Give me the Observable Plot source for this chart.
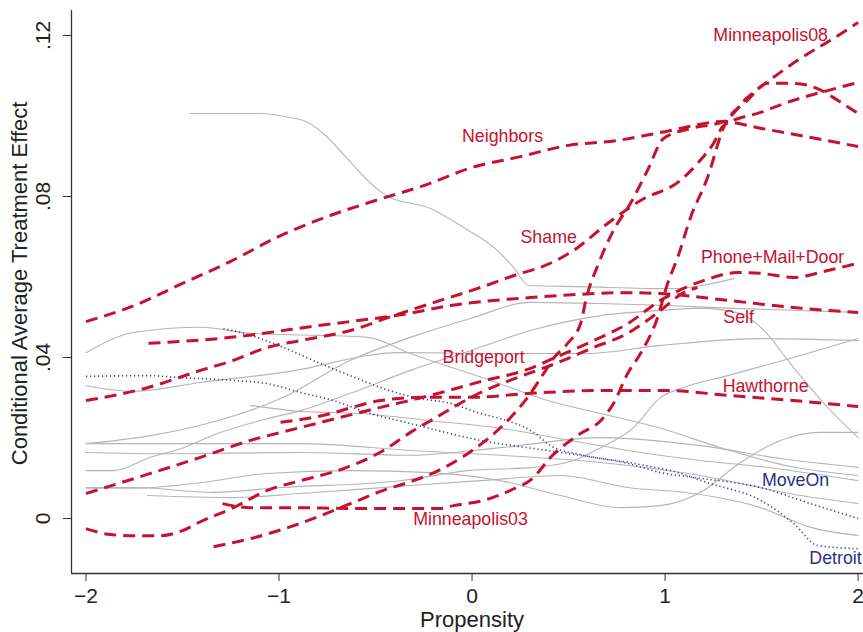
<!DOCTYPE html>
<html>
<head>
<meta charset="utf-8">
<script src="https://cdn.jsdelivr.net/npm/d3@7"></script>
<script src="https://cdn.jsdelivr.net/npm/@observablehq/plot@0.6"></script>
<style>
  html, body { margin: 0; padding: 0; background: #fff; }
  #chart { width: 863px; height: 632px; }
</style>
</head>
<body>
<div id="chart"></div>
<script>
// ---------- Tick labels ----------
const xTicks = [-2, -1, 0, 1, 2];
const xTickLabels = ["\u22122", "\u22121", "0", "1", "2"];
const yTicks = [0, 0.04, 0.08, 0.12];
const yTickLabels = ["0", ".04", ".08", ".12"];
const xTitle = "Propensity";
const yTitle = "Conditional Average Treatment Effect";

// ---------- Red dashed series (labelled experiments) ----------
const neighborsX = [-2,-1.75,-1.5,-1.25,-1,-0.75,-0.5,-0.25,0,0.25,0.5,0.75,1,1.3,1.5,1.75,2];
const neighborsY = [.0489,.0529,.0584,.0639,.0701,.0750,.0790,.0827,.0872,.0899,.0927,.0939,.0961,.0986,.0969,.0947,.0924];

const shameX = [-2,-1.681,-1.407,-1.236,-1.060,-0.889,-0.630,-0.407,-0.215,0.044,0.251,0.355,0.526,0.702,0.873,1.080,1.168,1.251,1.303,1.495,1.666,1.842,2.0];
const shameY = [.0293,.0325,.0368,.0393,.0425,.0442,.0467,.0504,.0534,.0574,.0609,.0624,.0666,.0733,.0790,.0840,.0882,.0932,.0976,.1009,.1039,.1063,.1083];

const selfX = [-1.676,-1.251,-0.801,-0.334,-0.111,0.303,0.459,0.806,0.972,1.324,1.666,2.0];
const selfY = [.0435,.0450,.0479,.0509,.0529,.0549,.0554,.0561,.0559,.0542,.0524,.0512];

const pmdX = [-2,-1.666,-1.407,-1.148,-0.889,-0.474,-0.215,0.044,0.303,0.422,0.630,0.806,0.977,1.199,1.376,1.495,1.666,1.842,2.0];
const pmdY = [.0062,.0112,.0152,.0194,.0226,.0276,.0306,.0340,.0373,.0398,.0442,.0484,.0542,.0591,.0611,.0609,.0599,.0616,.0634];

const hawthorneX = [-0.992,-0.801,-0.474,-0.251,-0.008,0.303,0.666,1.003,1.324,1.666,2.0];
const hawthorneY = [.0239,.0253,.0293,.0301,.0301,.0311,.0318,.0318,.0306,.0293,.0278];

const bridgeportX = [-2,-1.873,-1.75,-1.62,-1.50,-1.407,-1.236,-1.060,-0.889,-0.666,-0.459,-0.319,-0.215,0.044,0.251,0.422,0.630,0.806,0.977,1.096,1.168];
const bridgeportY = [-.0025,-.0040,-.0043,-.0043,-.0030,-.0008,.0027,.0070,.0094,.0124,.0169,.0214,.0243,.0313,.0353,.0383,.0425,.0460,.0517,.0561,.0574];

const minn03X = [-1.293,-1.148,-0.889,-0.645,-0.459,-0.163,-0.096,0.060,0.199,0.319,0.407,0.562,0.666,0.733,0.806,0.873,0.961,1.013,1.065,1.132,1.220,1.303,1.427,1.531,1.666,1.790,1.894,2.0];
const minn03Y = [.0037,.0027,.0027,.0025,.0025,.0025,.0032,.0045,.0070,.0102,.0152,.0211,.0243,.0286,.0360,.0410,.0499,.0584,.0648,.0748,.0847,.0971,.1039,.1081,.1081,.1068,.1039,.1006];

const minn08X = [-1.339,-1.148,-0.889,-0.630,-0.459,-0.334,-0.197,-0.023,0.148,0.288,0.391,0.422,0.495,0.562,0.593,0.656,0.733,0.821,0.909,0.992,1.132,1.303,1.427,1.562,1.702,1.857,2.0];
const minn08Y = [-.0070,-.0050,-.0012,.0037,.0070,.0089,.0114,.0161,.0226,.0301,.0375,.0398,.0435,.0484,.0549,.0634,.0716,.0783,.0865,.0944,.0969,.0986,.1046,.1096,.1143,.1188,.1232];

// ---------- Blue dotted series ----------
const moveOnX = [-2,-1.681,-1.510,-1.236,-1.060,-0.889,-0.718,-0.541,-0.319,0.044,0.391,0.562,0.806,0.977,1.148,1.495,1.754,2.0];
const moveOnY = [.0353,.0355,.0350,.0343,.0335,.0313,.0293,.0263,.0236,.0194,.0169,.0157,.0137,.0114,.0102,.0077,.0037,.0000];

const detroitX = [-1.288,-1.148,-0.977,-0.801,-0.630,-0.459,-0.303,-0.111,0.044,0.148,0.319,0.407,0.578,0.837,1.080,1.220,1.495,1.666,1.790,2.0];
const detroitY = [.0472,.0455,.0425,.0388,.0355,.0323,.0301,.0286,.0261,.0248,.0214,.0181,.0157,.0137,.0112,.0089,.0045,-.0012,-.0067,-.0075];

// ---------- Grey background series ----------
const g1X = [-1.459,-1.096,-0.941,-0.889,-0.422,-0.215,-0.044,0.111,0.215,0.293,0.562,1.028,1.355];
const g1Y = [.1006,.1006,.0996,.0991,.0797,.0770,.0723,.0674,.0624,.0579,.0576,.0571,.0596];
const g2X = [-2,-1.754,-1.407,-1.148,-0.801,-0.541,-0.319,0.096,0.391,0.666,0.977,1.288,1.650,2.0];
const g2Y = [.0412,.0462,.0475,.0460,.0455,.0450,.0410,.0343,.0293,.0261,.0224,.0176,.0129,.0107];
const g3X = [-2,-1.754,-1.407,-0.977,-0.370,0.148,0.598,0.977,1.495,2.0];
const g3Y = [.0330,.0316,.0338,.0363,.0412,.0410,.0410,.0430,.0447,.0442];
const g4X = [-2,-1.666,-1.319,-0.977,-0.630,-0.319,-0.008,0.303,0.666,1.013,1.355,2.0];
const g4Y = [.0186,.0206,.0243,.0301,.0393,.0450,.0497,.0537,.0534,.0529,.0522,.0512];
const g5X = [-2,-1.857,-1.666,-1.495,-1.319,-1.060,-0.889,-0.630,-0.319,-0.008,0.303,0.666,0.977,1.184,1.391,1.495,1.666,1.842,2.0];
const g5Y = [.0119,.0119,.0152,.0176,.0211,.0248,.0268,.0311,.0368,.0417,.0467,.0504,.0517,.0522,.0509,.0475,.0375,.0276,.0201];
const g6X = [-2,-1.407,-0.889,-0.319,0.148,0.666,1.184,1.702,2.0];
const g6Y = [.0186,.0186,.0186,.0169,.0157,.0139,.0107,.0057,.0037];
const g7X = [-2,-1.578,-0.889,-0.319,0.148,0.666,1.184,1.598,2.0];
const g7Y = [.0164,.0161,.0164,.0157,.0176,.0201,.0181,.0149,.0127];
const g8X = [-2,-1.754,-1.339,-0.992,-0.370,-0.023,0.319,0.526,0.666,0.837,0.977,1.080,1.324,1.666,2.0];
const g8Y = [.0077,.0077,.0065,.0077,.0094,.0119,.0127,.0144,.0176,.0226,.0301,.0323,.0355,.0400,.0447];
const g9X = [-2,-1.754,-1.407,-1.060,-0.630,-0.215,0.148,0.459,0.769,0.977,1.184,1.391,1.598,1.805,2.0];
const g9Y = [.0075,.0075,.0089,.0112,.0119,.0114,.0094,.0057,.0027,.0032,.0065,.0139,.0194,.0214,.0214];
const g10X = [-1.681,-1.236,-0.889,-0.319,0.044,0.459,0.806,1.148,1.495,1.754,2.0];
const g10Y = [.0057,.0052,.0062,.0082,.0094,.0107,.0077,.0062,.0027,-.0022,-.0042];
const g11X = [-1.148,-0.889,-0.578,-0.215,0.148,0.510,0.873,1.184,1.495,2.0];
const g11Y = [.0281,.0266,.0261,.0243,.0224,.0194,.0164,.0144,.0129,.0094];

// ---------- Labels ----------
const redLabelText = ["Minneapolis08","Neighbors","Shame","Phone+Mail+Door","Self","Bridgeport","Hawthorne","Minneapolis03"];
const redLabelX = [1.547, 0.158, 0.397, 1.557, 1.381, 0.060, 1.521, -0.008];
const redLabelY = [0.1200, 0.0949, 0.0698, 0.0648, 0.0500, 0.0400, 0.0328, -0.0002];
const blueLabelText = ["MoveOn", "Detroit"];
const blueLabelX = [1.676, 1.883];
const blueLabelY = [0.0094, -0.0099];

// ---------- Build tables ----------
function rows(name, xs, ys) { return xs.map((x, i) => ({id: name, x, y: ys[i]})); }
const redRows = [
  ...rows("Neighbors", neighborsX, neighborsY),
  ...rows("Shame", shameX, shameY),
  ...rows("Self", selfX, selfY),
  ...rows("Phone+Mail+Door", pmdX, pmdY),
  ...rows("Hawthorne", hawthorneX, hawthorneY),
  ...rows("Bridgeport", bridgeportX, bridgeportY),
  ...rows("Minneapolis03", minn03X, minn03Y),
  ...rows("Minneapolis08", minn08X, minn08Y)
];
const blueRows = [...rows("MoveOn", moveOnX, moveOnY), ...rows("Detroit", detroitX, detroitY)];
const grayRows = [
  ...rows("g1", g1X, g1Y), ...rows("g2", g2X, g2Y), ...rows("g3", g3X, g3Y),
  ...rows("g4", g4X, g4Y), ...rows("g5", g5X, g5Y), ...rows("g6", g6X, g6Y),
  ...rows("g7", g7X, g7Y), ...rows("g8", g8X, g8Y), ...rows("g9", g9X, g9Y),
  ...rows("g10", g10X, g10Y), ...rows("g11", g11X, g11Y)
];
const redLabels = redLabelText.map((t, i) => ({t, x: redLabelX[i], y: redLabelY[i]}));
const blueLabels = blueLabelText.map((t, i) => ({t, x: blueLabelX[i], y: blueLabelY[i]}));

const xDomain = [-2.075, 2.028];
const yDomain = [-0.01366, 0.1262];
const RED = "#c4122f";
const BLUE = "#3a3a98";
const AXIS = "#333";

const chart = Plot.plot({
  width: 863,
  height: 632,
  marginLeft: 71,
  marginRight: 0,
  marginTop: 10,
  marginBottom: 59,
  x: {domain: xDomain},
  y: {domain: yDomain},
  style: {fontFamily: "'Liberation Sans', Arial, Helvetica, sans-serif", background: "#fff", color: "#222"},
  marks: [
    Plot.line(grayRows, {x: "x", y: "y", z: "id", stroke: "#b5b5b5", strokeWidth: 1.1, curve: "monotone-x"}),
    Plot.line(blueRows, {x: "x", y: "y", z: "id", stroke: BLUE, strokeWidth: 1.6, strokeDasharray: "1.2,2.8", strokeLinecap: "butt", curve: "monotone-x"}),
    Plot.line(redRows, {x: "x", y: "y", z: "id", stroke: RED, strokeWidth: 3, strokeDasharray: "12,7", strokeLinecap: "butt", curve: "monotone-x"}),
    Plot.ruleX([xDomain[0]], {stroke: AXIS, strokeWidth: 1.3}),
    Plot.ruleY([yDomain[0]], {stroke: AXIS, strokeWidth: 1.3}),
    Plot.axisX({ticks: xTicks, tickFormat: d => xTickLabels[xTicks.indexOf(d)], tickSize: 8, tickPadding: 7, fontSize: 21, stroke: AXIS, fill: "#222", label: null}),
    Plot.axisY({ticks: yTicks, tickFormat: d => yTickLabels[yTicks.indexOf(d)], tickSize: 8, tickPadding: 14, tickRotate: -90, fontSize: 21, stroke: AXIS, fill: "#222", label: null}),
    Plot.text(redLabels, {x: "x", y: "y", text: "t", fill: RED, fontSize: 17.8}),
    Plot.text(blueLabels, {x: "x", y: "y", text: "t", fill: "#2e2e8c", fontSize: 17.8}),
    Plot.text([xTitle], {x: 0, frameAnchor: "bottom", dy: 46, lineAnchor: "middle", textAnchor: "middle", text: d => d, fontSize: 22, fill: "#222"}),
    Plot.text([yTitle], {y: 0.0584, frameAnchor: "left", dx: -52, rotate: -90, textAnchor: "middle", lineAnchor: "middle", text: d => d, fontSize: 22, fill: "#222"})
  ]
});
document.getElementById("chart").appendChild(chart);
</script>
</body>
</html>
